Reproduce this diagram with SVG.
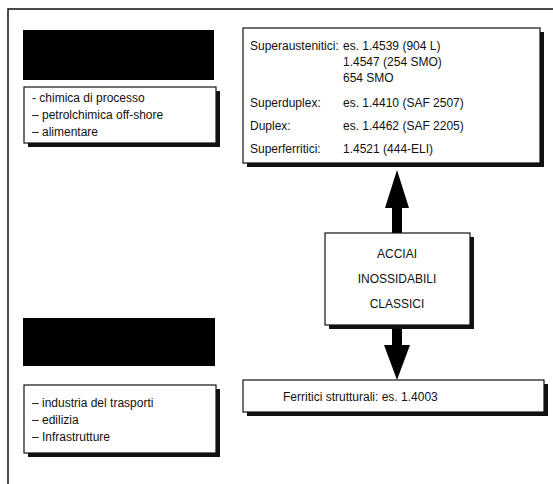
<svg xmlns="http://www.w3.org/2000/svg" width="553" height="484" viewBox="0 0 553 484">
<style>
.t{font-family:"Liberation Sans",Arial,sans-serif;font-size:12px;fill:#111}
.box{fill:#fff;stroke:#111;stroke-width:1.2}
.sh{fill:#111}
.blk{fill:#000}
</style>
<rect width="553" height="484" fill="#fff"/>
<g id="frame"><polyline points="8,484 8,9 553,9" fill="none" stroke="#111" stroke-width="1.5"/></g>

<g id="top-label"><rect class="blk" x="23" y="30" width="191" height="50"/></g>
<g id="top-list">
<rect class="sh" x="28" y="91" width="192" height="56"/>
<rect class="box" x="24" y="87" width="192" height="56"/>
<text class="t" x="32" y="102">- chimica di processo</text>
<text class="t" x="32" y="119">– petrolchimica off-shore</text>
<text class="t" x="32" y="136">– alimentare</text>
</g>

<g id="super">
<rect class="sh" x="247" y="32" width="297" height="135"/>
<rect class="box" x="243" y="28" width="297" height="135"/>
<text class="t" x="250" y="50">Superaustenitici:</text>
<text class="t" x="343" y="50">es. 1.4539 (904 L)</text>
<text class="t" x="343" y="66">1.4547 (254 SMO)</text>
<text class="t" x="343" y="82">654 SMO</text>
<text class="t" x="250" y="107">Superduplex:</text>
<text class="t" x="343" y="107">es. 1.4410 (SAF 2507)</text>
<text class="t" x="250" y="130">Duplex:</text>
<text class="t" x="343" y="130">es. 1.4462 (SAF 2205)</text>
<text class="t" x="250" y="153">Superferritici:</text>
<text class="t" x="343" y="153">1.4521 (444-ELI)</text>
</g>

<g id="connectors">
<polygon class="blk" points="397,170 409,208 402,208 402,233 392,233 392,208 385,208"/>
<polygon class="blk" points="392,327 402,327 402,345 410,345 397,380 384,345 392,345"/>
</g>

<g id="center">
<rect class="sh" x="329" y="237" width="145" height="92"/>
<rect class="box" x="325" y="233" width="145" height="92"/>
<text class="t" x="397" y="258" text-anchor="middle">ACCIAI</text>
<text class="t" x="397" y="283" text-anchor="middle">INOSSIDABILI</text>
<text class="t" x="397" y="308" text-anchor="middle">CLASSICI</text>
</g>

<g id="bottom-label"><rect class="blk" x="23" y="318" width="192" height="48"/></g>
<g id="bottom-list">
<rect class="sh" x="28" y="389" width="192" height="68"/>
<rect class="box" x="24" y="385" width="192" height="68"/>
<text class="t" x="32" y="407">– industria del trasporti</text>
<text class="t" x="32" y="424">– edilizia</text>
<text class="t" x="32" y="441">– Infrastrutture</text>
</g>

<g id="ferritici">
<rect class="sh" x="247" y="384" width="301" height="32"/>
<rect class="box" x="243" y="380" width="301" height="32"/>
<text class="t" x="283" y="401">Ferritici strutturali: es. 1.4003</text>
</g>
</svg>
